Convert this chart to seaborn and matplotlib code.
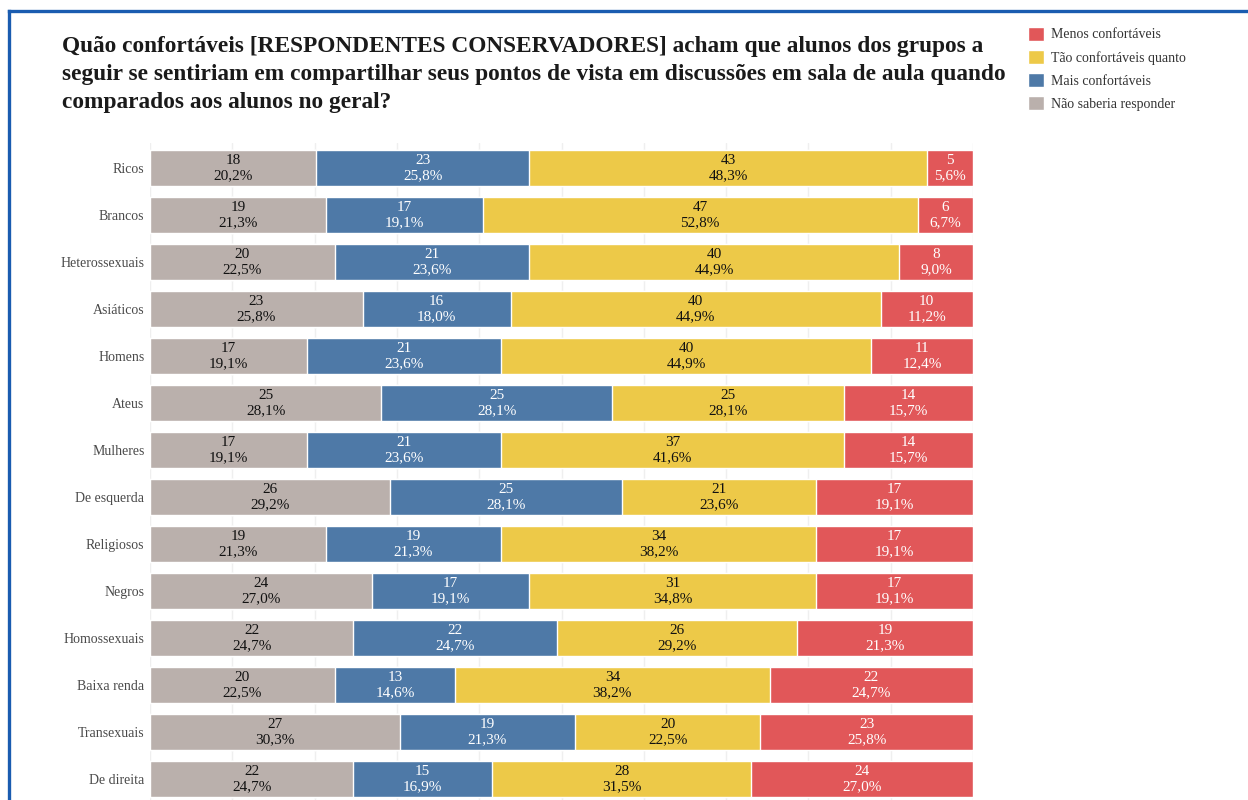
import numpy as np
import pandas as pd
import matplotlib
matplotlib.use("Agg")
import matplotlib.pyplot as plt
from matplotlib.patches import Patch
from matplotlib.lines import Line2D
import seaborn as sns

# data (counts out of 89 respondents)
categories = ["Ricos", "Brancos", "Heterossexuais", "Asiáticos", "Homens", "Ateus",
              "Mulheres", "De esquerda", "Religiosos", "Negros", "Homossexuais",
              "Baixa renda", "Transexuais", "De direita"]
nao_saberia = [18, 19, 20, 23, 17, 25, 17, 26, 19, 24, 22, 20, 27, 22]
mais = [23, 17, 21, 16, 21, 25, 21, 25, 19, 17, 22, 13, 19, 15]
tao = [43, 47, 40, 40, 40, 25, 37, 21, 34, 31, 26, 34, 20, 28]
menos = [5, 6, 8, 10, 11, 14, 14, 17, 17, 17, 19, 22, 23, 24]

series_names = ["Não saberia responder", "Mais confortáveis",
                "Tão confortáveis quanto", "Menos confortáveis"]
colors = ["#bab0ac", "#4e79a7", "#edc948", "#e15759"]
text_colors = ["#111111", "white", "#111111", "white"]

sns.set_style("white")
plt.rcParams["font.family"] = ["Liberation Serif", "DejaVu Serif"]

counts = np.array([nao_saberia, mais, tao, menos], dtype=float)
totals = counts.sum(axis=0)
pct = counts / totals * 100
cum = np.cumsum(pct, axis=0)

fig = plt.figure(figsize=(12.48, 8), dpi=100)
ax = fig.add_axes([150 / 1248, 0, (973 - 150) / 1248, 1 - 143 / 800])

# draw stacked bars by layering the cumulative totals, widest first
for k in range(3, -1, -1):
    df = pd.DataFrame({"cat": categories, "val": cum[k]})
    sns.barplot(data=df, x="val", y="cat", color=colors[k], width=0.75,
                saturation=1, ax=ax, zorder=2)

for i in range(len(categories)):
    left = 0
    for k in range(4):
        p = pct[k, i]
        label = f"{int(counts[k, i])}\n{p:.1f}%".replace(".", ",")
        ax.text(left + p / 2, i, label, ha="center", va="center",
                fontsize=11, color=text_colors[k], linespacing=1.2, zorder=3)
        left += p

ax.set_xlim(0, 100)
ax.set_ylim(13.447, -0.532)
ax.set_xticks(np.arange(0, 101, 10))
ax.xaxis.grid(True, color="#efefef", linewidth=1)
ax.set_axisbelow(True)
ax.set_xticklabels([])
ax.set_xlabel("")
ax.set_ylabel("")
ax.tick_params(axis="y", length=0, labelsize=10, labelcolor="#4a4a4a", pad=4)
ax.tick_params(axis="x", length=0)
sns.despine(ax=ax, left=True, bottom=True)

fig.text(62 / 1248, 1 - 36 / 800,
         "Quão confortáveis [RESPONDENTES CONSERVADORES] acham que alunos dos grupos a\n"
         "seguir se sentiriam em compartilhar seus pontos de vista em discussões em sala de aula quando\n"
         "comparados aos alunos no geral?",
         ha="left", va="top", fontsize=16.8, fontweight="bold", color="#1a1a1a",
         linespacing=1.45)

handles = [Patch(facecolor=colors[k], label=series_names[k]) for k in [3, 2, 1, 0]]
fig.legend(handles=handles, loc="upper left", bbox_to_anchor=(1022 / 1248, 1 - 21 / 800),
           frameon=False, fontsize=10, handlelength=1.2, handleheight=1.2,
           labelspacing=0.6, handletextpad=0.5, borderaxespad=0, labelcolor="#333333")

# blue frame on left and top
fig.add_artist(Line2D([9 / 1248, 9 / 1248], [0, 1 - 11 / 800], transform=fig.transFigure,
                      color="#1a5cb0", linewidth=2.4, solid_capstyle="projecting"))
fig.add_artist(Line2D([9 / 1248, 1], [1 - 11 / 800, 1 - 11 / 800], transform=fig.transFigure,
                      color="#1a5cb0", linewidth=2.4, solid_capstyle="projecting"))

fig.savefig("out.png", dpi=100)
